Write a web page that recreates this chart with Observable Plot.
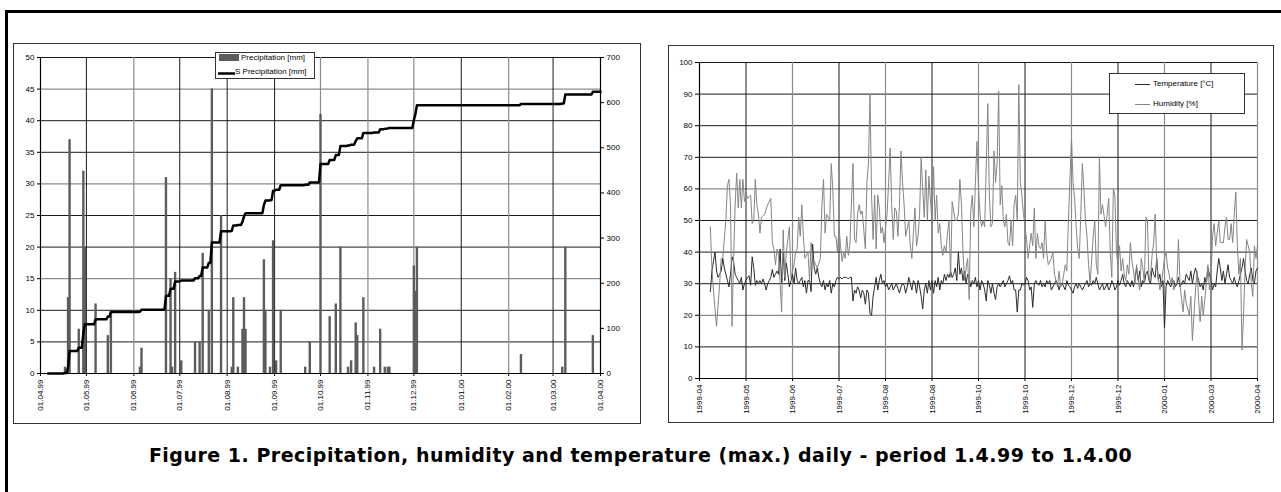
<!DOCTYPE html>
<html><head><meta charset="utf-8">
<script src="https://cdn.jsdelivr.net/npm/d3@7"></script>
<script src="https://cdn.jsdelivr.net/npm/@observablehq/plot@0.6"></script>
<style>
html,body{margin:0;padding:0;background:#fff;}
body{width:1281px;height:492px;overflow:hidden;position:relative;font-family:Arial,"Liberation Sans",sans-serif;}
#frame{position:absolute;left:5px;top:10px;width:1300px;height:520px;border-top:3px solid #000;border-left:3px solid #000;}
.panel{position:absolute;border:1.5px solid #333;box-sizing:border-box;background:#fff;}
.chart{position:absolute;}
.legend{position:absolute;border:1px solid #333;background:#fff;box-sizing:border-box;font:8px Arial,"Liberation Sans",sans-serif;color:#000;}
.legend .item{position:absolute;white-space:nowrap;line-height:10px;}
#title{position:absolute;left:0;width:1281px;top:444px;text-align:center;font:bold 19px "DejaVu Sans",sans-serif;letter-spacing:0.5px;color:#000;white-space:nowrap;}
</style></head><body>
<div id="frame"></div>
<div class="panel" style="left:13px;top:43px;width:628px;height:381px;"></div>
<div class="panel" style="left:668px;top:45px;width:606px;height:378px;"></div>
<div id="left" class="chart" style="left:13px;top:43px;"></div>
<div id="right" class="chart" style="left:668px;top:46px;"></div>
<div class="legend" style="left:215px;top:52px;width:100px;height:27px;">
  <svg style="position:absolute;left:2px;top:1px" width="22" height="24"><rect x="1" y="0" width="20" height="7" fill="#5c5c5c"/><line x1="0" x2="17" y1="19.5" y2="19.5" stroke="#000" stroke-width="2.5"/></svg>
  <div class="item" style="left:25px;top:0px;">Precipitation [mm]</div>
  <div class="item" style="left:19px;top:14px;">S Precipitation [mm]</div>
</div>
<div class="legend" style="left:1109px;top:73px;width:136px;height:41px;">
  <svg style="position:absolute;left:25px;top:0" width="16" height="40"><line x1="0" x2="15" y1="10.5" y2="10.5" stroke="#2a2a2a" stroke-width="1"/><line x1="0" x2="15" y1="30.5" y2="30.5" stroke="#858585" stroke-width="1"/></svg>
  <div class="item" style="left:43px;top:5px;">Temperature [°C]</div>
  <div class="item" style="left:43px;top:25px;">Humidity [%]</div>
</div>
<div id="title">Figure 1. Precipitation, humidity and temperature (max.) daily - period 1.4.99 to 1.4.00</div>
<script>
// ---------- Left chart data: daily precipitation (day index from 01.04.99) ----------
const precipDay = [16,18,19,25,28,29,36,44,46,65,66,82,85,86,88,92,101,104,106,110,112,118,125,126,129,132,133,134,146,147,150,152,154,157,173,176,183,189,193,196,201,203,206,207,211,218,222,225,227,228,244,245,246,314,341,343,361];
const precipMM  = [1,12,37,7,32,20,11,6,10,1,4,31,15,1,16,2,5,5,19,10,45,25,1,12,1,7,12,7,18,10,1,21,2,10,1,5,41,9,11,20,1,2,8,6,12,1,7,1,1,1,17,13,20,3,1,20,6];
const sumFirstDay = 5, sumLastDay = 366;
const leftYTicks = [0,5,10,15,20,25,30,35,40,45,50];
const leftY2Ticks = [0,100,200,300,400,500,600,700];
const leftXLabels = ["01.04.99","01.05.99","01.06.99","01.07.99","01.08.99","01.09.99","01.10.99","01.11.99","01.12.99","01.01.00","01.02.00","01.03.00","01.04.00"];

// ---------- Right chart data ----------
const rightXLabels = ["1999-04","1999-05","1999-06","1999-07","1999-08","1999-08","1999-10","1999-10","1999-12","1999-12","2000-01","2000-03","2000-04"];
const rightYTicks = [0,10,20,30,40,50,60,70,80,90,100];
const tempFirstDay = 7;
const temperature = [27.5,34,37,40,34,32,33,34,38,35,33,31,29,33,38.5,37,33,32,31,30,32,28,30,31,32,32.5,29.5,38.5,35,29.5,31,30,31,30,31.5,30,28,30,31,32,34.5,32,33,34,33,41,30,40,31,36.5,33,29,31,33,30,35,31,30,31,32,29,31,27,31,31,27.5,42.5,35,33,35,32,30,29,31,28,30,29,31,27,30,29,31,32,31.5,32,31.5,32,32,32,31.5,32,32,24.5,28,27,29,28,25.5,28,27,23.5,28,27,20.5,20,26,29,32,28,31,33,30,31,29,30,28,29,30,28,29,30,28.5,27,29,30,29.5,27,29,32,30,28,31,30,27,31,29,26,22,28,30,27,31,28,31,27,31,29,32,28,31,30,33,31,33,32,34,32,33,35,31,40,33,35,31,34,30,33,32,29,31,30,32,29,31,28,31,30,28,24.5,31,29.5,27,30,27,25,29,30,29,30,31,29,30,31,32.5,30,31,28,28,21,28,28,30,29.5,30,32,31,28,29,22.5,30,31,30,29.5,31,29,30,29,31,30,31,28,29,30,31,30,28,30,30,29,28,31,29.5,29,28,27,29,30,28.5,30,29,28,29,30,31,29,30,29.5,31,30,32,30,28,29,30,28,29,30,28,29,31,30,28,29,31,29.5,31,33,30,29,31,30,29,31,29,32,35,31,34,29,31,30,33,34,31,30,35,33,32,38,31,33,29,31,16,29,31,30,29,30.5,31,29,30,32,29,30,31,30,33,32,31,34,30,33,35,33,31,29,30,28,32,30,35,33,31,28,30,29,34,38,35,31,34,30,33,36,32,31,30,32,30,29,31,33,35,38,34,31,30,33,35,31,30,34,35];
const humidityDay = [7,8,9,10,11,13,14,15,17,18,19,20,21,22,23,24,25,26,27,28,29,30,31,33,34,35,36,37,38,39,40,42,44,46,47,48,49,50,51,53,54,55,56,58,59,61,62,63,64,65,66,67,68,70,71,72,73,75,76,78,79,80,81,82,83,84,85,86,87,88,89,90,91,92,93,94,95,96,97,99,100,101,102,103,104,105,107,108,109,110,111,112,113,114,115,116,117,118,119,121,122,123,124,125,126,127,128,129,130,131,132,133,135,136,137,138,139,140,141,142,143,144,145,146,147,148,150,151,152,153,154,155,156,157,158,159,160,161,162,163,165,166,167,168,169,170,171,172,173,174,175,176,177,178,179,180,181,182,183,184,186,187,188,189,190,191,192,193,194,195,196,197,198,199,200,201,202,203,204,205,206,207,208,209,210,211,212,214,215,216,217,218,219,220,221,222,223,224,225,227,228,229,230,231,232,233,234,235,236,237,238,240,241,242,243,244,245,246,247,248,249,250,251,252,254,255,256,257,258,259,260,262,263,264,265,266,267,268,269,270,271,272,273,274,275,276,277,278,279,280,281,282,283,284,285,286,287,288,289,290,291,292,293,294,295,296,297,298,300,301,302,303,304,305,306,307,308,309,310,311,312,313,314,316,317,318,319,320,321,322,323,324,325,327,328,329,330,331,332,333,334,335,336,338,339,340,341,342,343,344,345,346,347,348,349,350,351,352,353,354,355,356,357,358,359,360];
const humidity    = [48,35,28,22,16.5,30,38,38,50,61,63,55,16.5,38,55,65,54,63,54,63,56,59,57,58,49,50,63,55,52,46,51,52,55,57,43,41,36,41,39,21,47,32,40,48,32,36,40,41,51,45,55,45,38,40,31,43,38,36,35,38,55,63,46,52,51,50,68,60,45,45,40,48,42,37,40,38,45,39,42,68,44,43,52,55,52,53,41,62,68,90,58,44,58,41,58,54,46,48,43,52,62,73,55,44,54,53,45,55,72,62,55,45,50,42,38,46,54,42,45,52,70,60,51,66,50,64,49,67,50,58,46,49,42,39,42,40,46,50,32,56,50,50,52,63,55,40,31,35,38,25,53,58,48,62,75,60,52,48,50,48,87,58,48,49,72,62,68,91,55,61,50,48,52,43,42,50,42,55,58,50,93,62,58,52,48,44,38,46,42,54,38,46,42,41,43,38,50,40,36,38,40,33,31,29,34,29,30,33,36,34,50,76,62,57,48,41,38,52,68,60,50,45,36,30,45,50,36,33,70,52,55,48,52,57,40,32,60,58,40,36,42,34,38,33,31,36,33,43,37,34,30,36,31,28,38,35,30,51,50,31,33,39,43,52,36,32,28,30,38,40,35,33,30,32,28,30,30,44,30,25,21,28,24,20,26,12,20,28,34,25,18,26,20,30,36,28,31,45,49,42,46,50,43,43,48,51,44,44,49,43,52,59,42,33,38,9,20,35,44,42,40,30,26,42,38,42];

// ---------- Build ----------
const start = new Date(Date.UTC(1999, 3, 1));
const day = d => new Date(start.getTime() + d * 864e5);
const monthTicks = d3.utcMonth.range(start, day(367));
const labelOfMonth = d => leftXLabels[monthTicks.findIndex(m => +m === +d)];

const bars = precipDay.map((d, i) => ({d, mm: precipMM[i]}));
const byDay = new Map(bars.map(b => [b.d, b.mm]));
const cum = [];
let c = 0;
for (let d = sumFirstDay; d <= sumLastDay; d++) { c += byDay.get(d) || 0; cum.push({d, c}); }
const k = 50 / 700;

const grayYLeft = [15, 30, 45];
const grayMonthIdx = [2, 6, 7, 8, 10];
const innerMonths = monthTicks.slice(1, -1);

const axisStyle = {fontFamily: "Arial, 'Liberation Sans', sans-serif", fontSize: "8px", color: "#000", background: "transparent", overflow: "visible"};

const leftPlot = Plot.plot({
  width: 628, height: 381,
  marginLeft: 27, marginRight: 41, marginTop: 14, marginBottom: 51,
  style: axisStyle,
  x: {type: "utc", domain: [day(0), day(366)]},
  y: {domain: [0, 50]},
  marks: [
    Plot.ruleY(leftYTicks.filter(v => v > 0 && grayYLeft.includes(v)), {stroke: "#8c8c8c", strokeWidth: 1.2}),
    Plot.ruleY(leftYTicks.filter(v => v > 0 && !grayYLeft.includes(v)), {stroke: "#1a1a1a", strokeWidth: 1}),
    Plot.ruleX(innerMonths.filter((m, i) => grayMonthIdx.includes(i + 1)), {stroke: "#8c8c8c", strokeWidth: 1.2}),
    Plot.ruleX(innerMonths.filter((m, i) => !grayMonthIdx.includes(i + 1)), {stroke: "#1a1a1a", strokeWidth: 1}),
    Plot.ruleX(bars, {x: b => day(b.d), y1: 0, y2: "mm", stroke: "#5c5c5c", strokeWidth: 2.4}),
    Plot.line(cum, {x: p => day(p.d), y: p => p.c * k, stroke: "#000", strokeWidth: 2.5}),
    Plot.ruleX([day(0), day(366)], {stroke: "#000", strokeWidth: 1.2}),
    Plot.ruleY([0], {stroke: "#000", strokeWidth: 1.2}),
    Plot.axisY({ticks: leftYTicks, tickSize: 3, tickPadding: 3, label: null}),
    Plot.axisY({anchor: "right", ticks: leftY2Ticks.map(v => v * k), tickFormat: v => String(Math.round(v / k)), tickSize: 3, tickPadding: 3, label: null}),
    Plot.axisX({ticks: monthTicks, tickFormat: labelOfMonth, tickRotate: -90, tickSize: 3, tickPadding: 3, label: null})
  ]
});
document.getElementById("left").appendChild(leftPlot);

const rightTickPos = rightXLabels.map((l, i) => i * 30);
const humPairs = humidityDay.map((d, i) => ({d, v: humidity[i]}));
const tempPairs = temperature.map((v, i) => ({d: tempFirstDay + i, v}));
const grayYRight = [20, 60];

const rightPlot = Plot.plot({
  width: 606, height: 377,
  marginLeft: 31, marginRight: 17, marginTop: 16, marginBottom: 45,
  style: axisStyle,
  x: {domain: [0, 360]},
  y: {domain: [0, 100]},
  marks: [
    Plot.ruleY(rightYTicks.filter(v => v > 0 && grayYRight.includes(v)), {stroke: "#8c8c8c", strokeWidth: 1.2}),
    Plot.ruleY(rightYTicks.filter(v => v > 0 && !grayYRight.includes(v)), {stroke: "#1a1a1a", strokeWidth: 1}),
    Plot.ruleX(rightTickPos.filter((p, i) => i > 0 && i % 2 === 0), {stroke: "#8c8c8c", strokeWidth: 1.2}),
    Plot.ruleX(rightTickPos.filter((p, i) => i > 0 && i % 2 === 1), {stroke: "#1a1a1a", strokeWidth: 1}),
    Plot.line(tempPairs, {x: "d", y: "v", stroke: "#2a2a2a", strokeWidth: 1}),
    Plot.line(humPairs, {x: "d", y: "v", stroke: "#858585", strokeWidth: 1}),
    Plot.ruleX([0], {stroke: "#000", strokeWidth: 1.2}),
    Plot.ruleY([0], {stroke: "#000", strokeWidth: 1.2}),
    Plot.axisY({ticks: rightYTicks, tickSize: 4, tickPadding: 3, label: null}),
    Plot.axisX({ticks: rightTickPos, tickFormat: p => rightXLabels[Math.round(p / 30)], tickRotate: -90, tickSize: 3, tickPadding: 3, label: null})
  ]
});
document.getElementById("right").appendChild(rightPlot);
</script>
</body></html>
